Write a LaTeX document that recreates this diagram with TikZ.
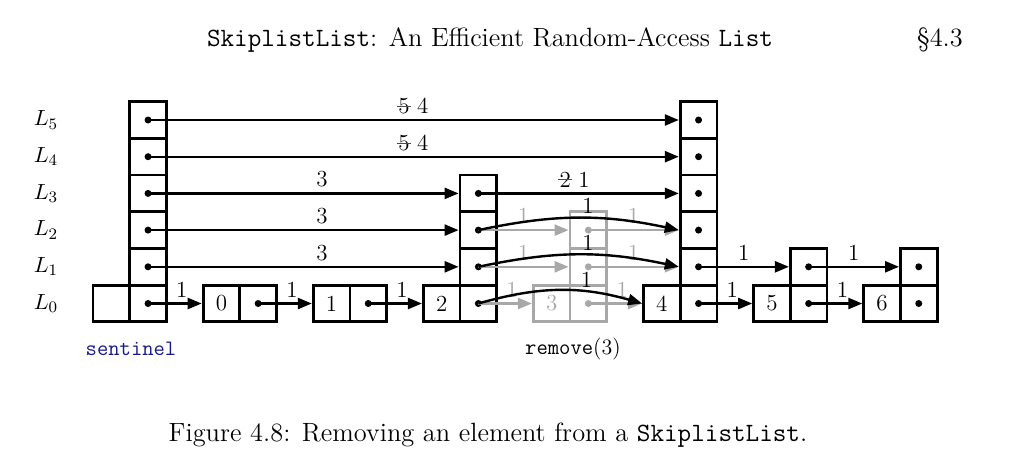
\documentclass[tikz,border=0pt]{standalone}
\usepackage{fontspec}
\usetikzlibrary{arrows.meta}
\definecolor{lightg}{RGB}{168,168,168}
\definecolor{navyblue}{RGB}{25,25,140}
\newcommand\strk[1]{\ooalign{#1\cr\hidewidth\textcolor{black!70}{\rule[0.3em]{0.62em}{0.5pt}}\hidewidth\cr}}
\begin{document}
\begin{tikzpicture}[x=0.5pt,y=-0.5pt,
  cellbox/.style={draw,line width=1.4pt,minimum width=18.35pt,minimum height=18.35pt,inner sep=0pt,font=\fontsize{11.5}{13}\selectfont},
  graycell/.style={cellbox,draw=lightg,text=lightg},
  link/.style={line width=1.2pt,-{Triangle[length=7pt,width=5.5pt]}},
  graylink/.style={link,draw=lightg,color=lightg},
  lbl/.style={above,inner sep=2.5pt,font=\fontsize{11.5}{13}\selectfont},
  bigtext/.style={font=\fontsize{13.2}{15}\selectfont},
  ttlabel/.style={font=\fontsize{11}{13}\selectfont}
]
\useasboundingbox (0,0) rectangle (1036,461);
% title
\node[bigtext] (title) at (490,40) {\texttt{SkiplistList}: An Efficient Random-Access \texttt{List}};
\node[bigtext] (sec) at (940,40) {\S4.3};
% level labels
\foreach \i in {0,...,5} \node[font=\fontsize{11}{13}\selectfont] (lab\i) at (46,303.5-36.7*\i) {$L_{\i}$};
% sentinel
\node[cellbox] (ks) at (93+18.35,303.5) {};
\foreach \i in {0,...,5} {
  \node[cellbox] (ps-\i) at (93+55.05,303.5-36.7*\i) {};
  \fill (ps-\i.center) circle[radius=1.75pt];
}
% gray removed node 3
\node[graycell] (k3) at (533.3+18.35,303.5) {3};
\foreach \i in {0,1,2} {
  \node[graycell] (p3-\i) at (533.3+55.05,303.5-36.7*\i) {};
  \fill[lightg] (p3-\i.center) circle[radius=1.75pt];
}
% black nodes
\foreach \k/\lev in {0/0,1/0,2/3,4/5,5/1,6/1} {
  \pgfmathsetmacro\xl{93+110.1*(\k+1)}
  \node[cellbox] (k\k) at (\xl+18.35,303.5) {\k};
  \foreach \i in {0,...,\lev} {
    \node[cellbox] (p\k-\i) at (\xl+55.05,303.5-36.7*\i) {};
    \fill (p\k-\i.center) circle[radius=1.75pt];
  }
}
% gray links
\draw[graylink] (p2-0.center) -- node[lbl,pos=0.63]{1} (k3.west);
\foreach \i in {1,2} \draw[graylink] (p2-\i.center) -- node[lbl]{1} (p3-\i.west);
\draw[graylink] (p3-0.center) -- node[lbl,pos=0.63]{1} (k4.west);
\foreach \i in {1,2} \draw[graylink] (p3-\i.center) -- node[lbl]{1} (p4-\i.west);
% black links
\draw[link] (ps-0.center) -- node[lbl,pos=0.63]{1} (k0.west);
\draw[link] (p0-0.center) -- node[lbl,pos=0.63]{1} (k1.west);
\draw[link] (p1-0.center) -- node[lbl,pos=0.63]{1} (k2.west);
\foreach \i in {1,2,3} \draw[link] (ps-\i.center) -- node[lbl,pos=0.56]{3} (p2-\i.west);
\foreach \i in {4,5} \draw[link] (ps-\i.center) -- node[lbl]{\strk{5} 4} (p4-\i.west);
\draw[link] (p2-3.center) -- node[lbl,pos=0.48]{\strk{2} 1} (p4-3.west);
\draw[link] (p4-0.center) -- node[lbl,pos=0.63]{1} (k5.west);
\draw[link] (p4-1.center) -- node[lbl]{1} (p5-1.west);
\draw[link] (p5-0.center) -- node[lbl,pos=0.63]{1} (k6.west);
\draw[link] (p5-1.center) -- node[lbl]{1} (p6-1.west);
% curved links bypassing node 3
\draw[link] (p2-0.center) to[bend left=16] node[lbl,pos=0.67,inner sep=1.5pt]{1} (k4.west);
\foreach \i in {1,2} \draw[link] (p2-\i.center) to[bend left=12] node[lbl,pos=0.55,inner sep=1.5pt]{1} (p4-\i.west);
% under labels
\node[ttlabel,text=navyblue] (sent) at (131,349) {\ttfamily sentinel};
\node[ttlabel] (rm) at (573,349) {\texttt{remove}(3)};
% caption
\node[bigtext] (cap) at (488,435) {Figure 4.8: Removing an element from a \texttt{SkiplistList}.};
\end{tikzpicture}
\end{document}
